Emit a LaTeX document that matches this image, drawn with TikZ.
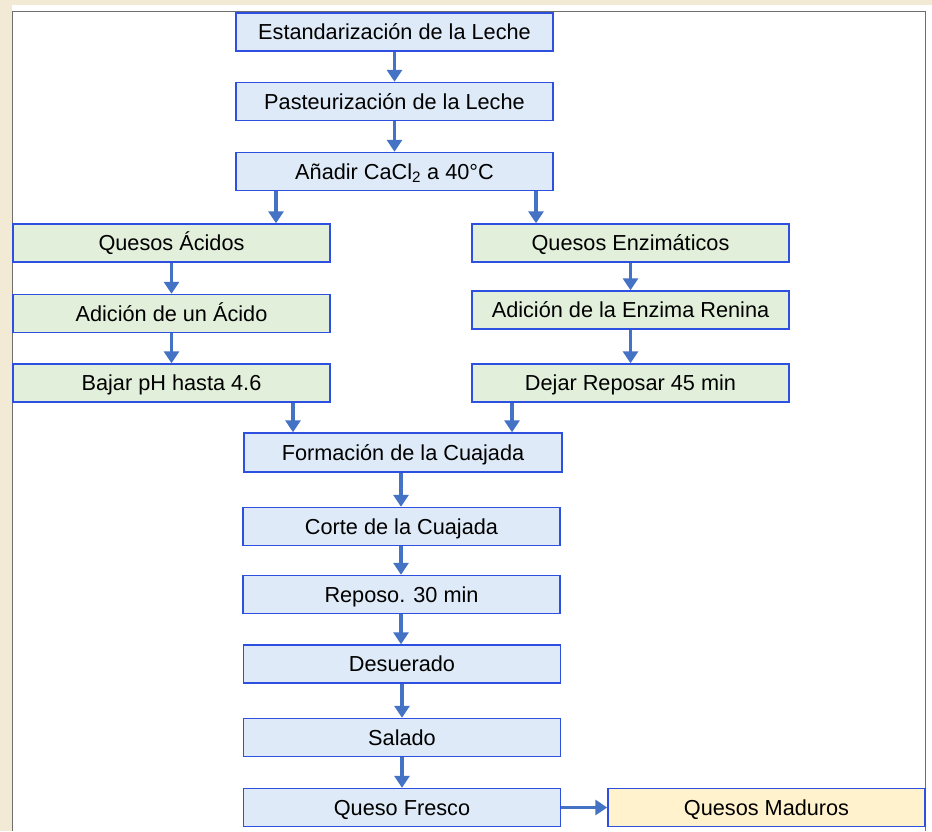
\documentclass[tikz,border=0pt]{standalone}
\usepackage{fontspec}
\setmainfont{Liberation Sans}
\usetikzlibrary{arrows.meta}
\definecolor{beige}{RGB}{242,234,212}
\definecolor{framegray}{RGB}{110,110,110}
\definecolor{boxblue}{RGB}{222,234,247}
\definecolor{boxgreen}{RGB}{226,239,218}
\definecolor{boxyellow}{RGB}{255,242,204}
\definecolor{edgeblue}{RGB}{45,80,225}
\definecolor{arrowblue}{RGB}{68,114,196}
\tikzset{
  procbox/.style={draw=edgeblue, line width=1.5pt, minimum width=317pt, minimum height=38pt,
    inner sep=0pt, text height=15.4pt, text depth=0pt,
    font=\fontsize{21.7}{24}\selectfont, text=black, anchor=center},
  bluebox/.style={procbox, fill=boxblue},
  greenbox/.style={procbox, fill=boxgreen},
  yellowbox/.style={procbox, fill=boxyellow},
  flowarrow/.style={draw=arrowblue, line width=3.8pt, -{Triangle[length=12pt,width=15pt]}, fill=arrowblue}
}
\begin{document}
\begin{tikzpicture}[x=1pt,y=-1pt]
\useasboundingbox (0,0) rectangle (932,831);
% background
\fill[beige] (0,0) rectangle (932,831);
\fill[white] (12,5) rectangle (932,831);
\draw[framegray, line width=1.8pt] (12.5,831) -- (12.5,11.5) -- (925.5,11.5) -- (925.5,831);

% boxes
\node[bluebox] (estand) at (394.5,32) {Estandarización de la Leche};
\node[bluebox] (paste) at (394.5,101.5) {Pasteurización de la Leche};
\node[bluebox] (cacl) at (394.5,171.5) {Añadir CaCl\textsubscript{2} a 40°C};

\node[greenbox] (acidos) at (171.5,243) {Quesos Ácidos};
\node[greenbox] (acido) at (171.5,313.5) {Adición de un Ácido};
\node[greenbox] (bajar) at (171.5,383) {Bajar pH hasta 4.6};

\node[greenbox] (enzim) at (630.5,243) {Quesos Enzimáticos};
\node[greenbox] (renina) at (630.5,310) {Adición de la Enzima Renina};
\node[greenbox] (dejar) at (630.5,383) {Dejar Reposar 45 min};

\node[bluebox, minimum width=318pt, minimum height=39pt] (formacion) at (403,452.5) {Formación de la Cuajada};
\node[bluebox] (corte) at (401.5,526.5) {Corte de la Cuajada};
\node[bluebox] (reposo) at (401.5,594.5) {Reposo. 30 min};
\node[bluebox] (desuer) at (402,664) {Desuerado};
\node[bluebox] (salado) at (402,737.5) {Salado};
\node[bluebox] (fresco) at (402,807.5) {Queso Fresco};
\node[yellowbox] (maduros) at (766.5,807.5) {Quesos Maduros};

% helper x positions
\coordinate (xa) at (276,0);
\coordinate (xe) at (536,0);
\coordinate (xb) at (293,0);
\coordinate (xd) at (512,0);
\coordinate (xf) at (401,0);

% arrows
\draw[flowarrow] (estand) -- (paste);
\draw[flowarrow] (paste) -- (cacl);
\draw[flowarrow] (cacl.south -| xa) -- (acidos.north -| xa);
\draw[flowarrow] (cacl.south -| xe) -- (enzim.north -| xe);
\draw[flowarrow] (acidos) -- (acido);
\draw[flowarrow] (acido) -- (bajar);
\draw[flowarrow] (enzim) -- (renina);
\draw[flowarrow] (renina) -- (dejar);
\draw[flowarrow] (bajar.south -| xb) -- (formacion.north -| xb);
\draw[flowarrow] (dejar.south -| xd) -- (formacion.north -| xd);
\draw[flowarrow] (formacion.south -| xf) -- (corte.north -| xf);
\draw[flowarrow] (corte.south -| xf) -- (reposo.north -| xf);
\draw[flowarrow] (reposo.south -| xf) -- (desuer.north -| xf);
\draw[flowarrow] (desuer) -- (salado);
\draw[flowarrow] (salado) -- (fresco);
\draw[flowarrow] (fresco) -- (maduros);
\end{tikzpicture}
\end{document}
